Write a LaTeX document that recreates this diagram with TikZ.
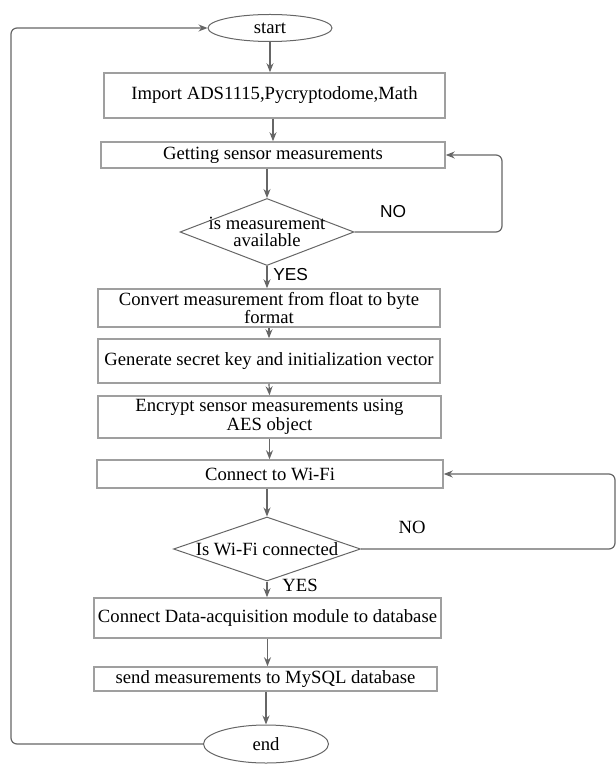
\documentclass[tikz,border=0pt]{standalone}
\usepackage{fontspec}
\setmainfont{Liberation Serif}
\newfontfamily\arialfont{Liberation Sans}
\usetikzlibrary{arrows.meta,shapes.geometric}
\newdimen\px \px=0.75pt

\tikzset{%
flowbox/.style={draw=gray!75, line width=1.5\px, fill=white, inner sep=0pt, align=center},
terminal/.style={draw=gray!80!black, line width=1\px, ellipse, inner sep=0pt},
decision/.style={draw=gray!80!black, line width=1\px, diamond, inner sep=0pt},
flowline/.style={draw=gray!80!black, line width=1.2\px, -{Stealth[length=6.75pt,width=5.25pt]}},
looseline/.style={draw=gray!80!black, line width=1.2\px, rounded corners=6\px},
}

\begin{document}
\begin{tikzpicture}[%
x=\px, y=-\px,
font=\fontsize{14}{14.5}\selectfont,
]
\useasboundingbox (0,0) rectangle (616,766);
%% terminals;
\node [terminal, minimum width=124\px, minimum height=27\px] (start) at (270,28) {start};
\node [terminal, minimum width=125\px, minimum height=38\px] (end) at (266,744) {end};
%% process boxes;
\node [flowbox, minimum width=341\px, minimum height=45\px] (import) at (274.5,95.5) {Import ADS1115,Pycryptodome,Math};
\node [flowbox, minimum width=344\px, minimum height=26\px] (sensor) at (273,155) {Getting sensor measurements};
\node [flowbox, minimum width=342\px, minimum height=38\px] (convert) at (269,308) {Convert measurement from float to byte\\[-1pt]format};
\node [flowbox, minimum width=342\px, minimum height=44\px] (keygen) at (269,361) {Generate secret key and initialization vector};
\node [flowbox, minimum width=343\px, minimum height=42\px] (encrypt) at (269.5,417) {Encrypt sensor measurements using\\AES object};
\node [flowbox, minimum width=346\px, minimum height=28\px] (wifi) at (270,474) {Connect to Wi-Fi};
\node [flowbox, minimum width=347\px, minimum height=40\px] (database) at (267.5,618) {Connect Data-acquisition module to database};
\node [flowbox, minimum width=343\px, minimum height=24\px] (mysql) at (265.5,679) {send measurements to MySQL database};
%% decisions;
\node [decision, minimum width=174\px, minimum height=67\px] (avail) at (267,232) {};
\node [align=center, inner sep=0pt] (availtext) at (267,232) {is measurement\\[-2pt]available};
\node [decision, minimum width=187\px, minimum height=64\px] (connected) at (267,549) {};
\node [inner sep=0pt] (connectedtext) at (267,549) {Is Wi-Fi connected};
%% labels;
\node [font=\arialfont\fontsize{13}{13}\selectfont, inner sep=0pt] (no1) at (393,212) {NO};
\node [font=\arialfont\fontsize{13}{13}\selectfont, inner sep=0pt, anchor=west] (yes1) at (273,275) {YES};
\node [inner sep=0pt] (no2) at (412,527) {NO};
\node [inner sep=0pt] (yes2) at (300,585) {YES};
%% loop corners;
\coordinate (wifiturn) at (615,549);
\coordinate (sensorturn) at (502,232);
\coordinate (endturn) at (11,744);
%% main flow;
\draw [flowline] (start.south) -- (start.south |- import.north);
\draw [flowline] (import.south -| sensor.north) -- (sensor.north);
\draw [flowline] (sensor.south -| avail.north) -- (avail.north);
\draw [flowline] (avail.south) -- (avail.south |- convert.north);
\draw [flowline] (convert.south) -- (keygen.north);
\draw [flowline] (keygen.south) -- (encrypt.north);
\draw [flowline] (encrypt.south) -- (encrypt.south |- wifi.north);
\draw [flowline] (wifi.south -| connected.north) -- (connected.north);
\draw [flowline] (connected.south) -- (connected.south |- database.north);
\draw [flowline] (database.south) -- (database.south |- mysql.north);
\draw [flowline] (mysql.south -| end.north) -- (end.north);
%% loops;
\draw [looseline, flowline] (avail.east) -- (sensorturn) |- (sensor.east);
\draw [looseline, flowline] (connected.east) -- (wifiturn) |- (wifi.east);
\draw [looseline, flowline] (end.west) -- (endturn) |- (start.west);
\end{tikzpicture}
\end{document}
